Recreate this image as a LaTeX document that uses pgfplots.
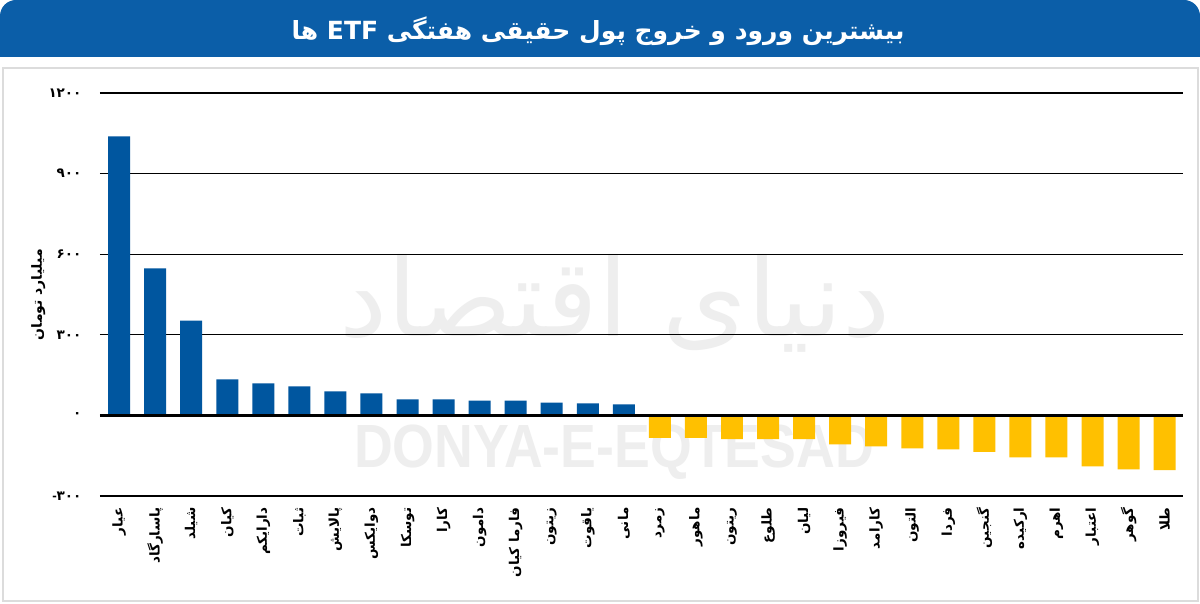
\documentclass[border=0pt]{standalone}
\usepackage{fontspec}
\usepackage{pgfplots}
\pgfplotsset{compat=1.18}
\setmainfont{DejaVu Sans}
\newfontfamily\arabicfont[Script=Arabic]{DejaVu Sans}
\newfontfamily\latinwm{Liberation Sans}
\TeXXeTstate=1
\definecolor{headerblue}{HTML}{0B5EA8}
\definecolor{barblue}{HTML}{00569F}
\definecolor{baryellow}{HTML}{FFC000}
\definecolor{framegray}{HTML}{DCDCDC}
\definecolor{wmgray}{HTML}{EEEEEE}
\begin{document}
\begin{tikzpicture}[x=1pt,y=1pt]
\useasboundingbox (0,0) rectangle (1200,603);
\fill[white] (0,0) rectangle (1200,603);
% header
\fill[headerblue, rounded corners=16pt] (0,546) rectangle (1200,603);
\fill[headerblue] (0,546) rectangle (1200,575);
\node[text=white, font=\arabicfont\bfseries\fontsize{25}{29}\selectfont] at (598,572)
  {\beginR بیشترین ورود و خروج پول حقیقی هفتگی \beginL ETF\endL{} ها\endR};
% frame
\draw[framegray, line width=2pt] (2.5,2) rectangle (1197.5,535);
% watermarks
\node[text=wmgray, font=\arabicfont\fontsize{108}{118}\selectfont] at (615,300) {\beginR دنیای اقتصاد\endR};
\node[text=wmgray, font=\latinwm\bfseries\fontsize{61}{70}\selectfont, xscale=0.88] at (614,151) {DONYA-E-EQTESAD};
\begin{axis}[
  at={(100pt,107pt)}, anchor=south west,
  scale only axis, width=1083pt, height=403pt,
  xmin=-0.53, xmax=29.51, ymin=-300, ymax=1200,
  ybar, bar width=0.61, bar shift=0pt,
  axis line style={draw=none},
  major tick length=0pt,
  ytick={-300,0,300,600,900,1200},
  yticklabels={{{\latinwm\bfseries -}{\arabicfont ۳۰۰}},{۰},{۳۰۰},{۶۰۰},{۹۰۰},{۱۲۰۰}},
  yticklabel style={font=\arabicfont\bfseries\fontsize{13.5}{15}\selectfont, xshift=-15pt},
  ymajorgrids, grid style={black, line width=1.1pt},
  xtick={0,...,29},
  xticklabels={
    {\beginR عیار\endR},{\beginR پاسارگاد\endR},{\beginR شیلد\endR},{\beginR کیان\endR},
    {\beginR دارایکم\endR},{\beginR ثبات\endR},{\beginR پالایش\endR},{\beginR دوایکس\endR},
    {\beginR توسکا\endR},{\beginR کارا\endR},{\beginR دامون\endR},{\beginR فارما کیان\endR},
    {\beginR زیتون\endR},{\beginR یاقوت\endR},{\beginR مانی\endR},{\beginR زمرد\endR},
    {\beginR ماهور\endR},{\beginR ریتون\endR},{\beginR طلوع\endR},{\beginR لیان\endR},
    {\beginR فیروزا\endR},{\beginR کارامد\endR},{\beginR التون\endR},{\beginR فردا\endR},
    {\beginR گنجین\endR},{\beginR ارکیده\endR},{\beginR اهرم\endR},{\beginR اعتبار\endR},
    {\beginR گوهر\endR},{\beginR طلا\endR}},
  xticklabel style={rotate=90, anchor=east, font=\arabicfont\bfseries\fontsize{13.5}{15}\selectfont, xshift=-8pt},
  ylabel={\beginR میلیارد تومان\endR},
  ylabel style={font=\arabicfont\bfseries\fontsize{14}{16}\selectfont, at={(axis description cs:-0.057,0.5)}, anchor=center},
]
\addplot[fill=barblue, draw=none] coordinates {
(0,1039) (1,547) (2,353) (3,134) (4,119) (5,108) (6,89) (7,82) (8,60) (9,60) (10,55) (11,55) (12,48) (13,45) (14,41)};
\addplot[fill=baryellow, draw=none] coordinates {
(15,-84) (16,-84) (17,-88) (18,-88) (19,-88) (20,-108) (21,-115) (22,-123) (23,-126) (24,-136) (25,-156) (26,-156) (27,-190) (28,-201) (29,-204)};
\draw[black, line width=2.2pt] (axis cs:-0.53,0) -- (axis cs:29.51,0);
\end{axis}
\end{tikzpicture}
\end{document}
